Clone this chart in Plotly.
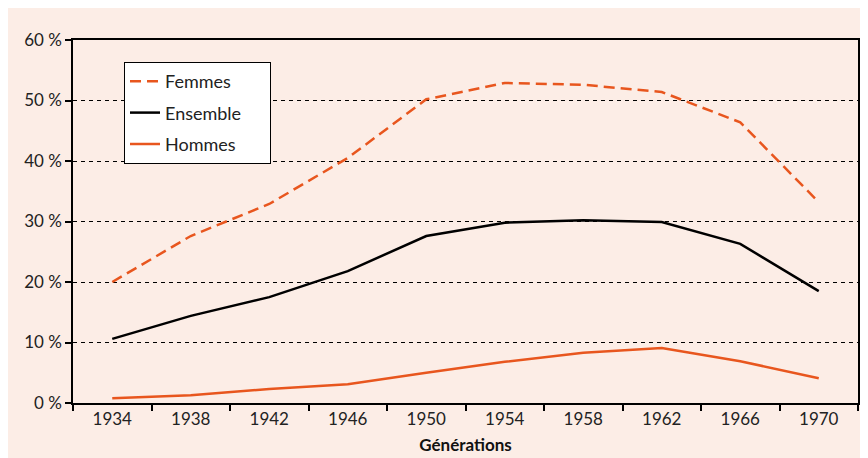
import plotly.graph_objects as go

generations = ["1934", "1938", "1942", "1946", "1950", "1954", "1958", "1962", "1966", "1970"]
femmes = [20.0, 27.6, 32.9, 40.5, 50.2, 52.9, 52.6, 51.4, 46.4, 33.2]
ensemble = [10.6, 14.4, 17.5, 21.8, 27.6, 29.8, 30.2, 29.9, 26.3, 18.5]
hommes = [0.8, 1.3, 2.3, 3.1, 5.0, 6.8, 8.3, 9.1, 6.9, 4.1]
y_ticks = [0, 10, 20, 30, 40, 50, 60]
y_ticktext = [f"{v} %" for v in y_ticks]

ORANGE = "#E8561E"
PINK = "#FCEDE6"
FONT = "Lato, Open Sans, sans-serif"
PAD = "\u00a0" * 5

fig = go.Figure()
fig.add_trace(go.Scatter(x=generations, y=femmes, name="Femmes" + PAD, mode="lines",
                         line=dict(color=ORANGE, width=2.5, dash="11px,6px"), legendgroup="a"))
fig.add_trace(go.Scatter(x=generations, y=ensemble, name="Ensemble" + PAD, mode="lines",
                         line=dict(color="black", width=2.5), legendgroup="b"))
fig.add_trace(go.Scatter(x=generations, y=hommes, name="Hommes" + PAD, mode="lines",
                         line=dict(color=ORANGE, width=2.5), legendgroup="c"))

W, H = 868, 458
L, R, T, B = 65, 18, 32, 63
pw, ph = W - L - R, H - T - B

fig.update_layout(
    width=W, height=H,
    margin=dict(l=L, r=R, t=T, b=B),
    paper_bgcolor=PINK,
    plot_bgcolor=PINK,
    font=dict(family=FONT, size=17, color="#222222"),
    showlegend=True,
    legend=dict(x=(116 - L) / pw, y=(H - B - 54) / ph, xanchor="left", yanchor="top",
                bgcolor="white", bordercolor="black", borderwidth=1,
                font=dict(size=18, family=FONT, color="#222222"),
                traceorder="grouped", tracegroupgap=5),
)
fig.update_xaxes(
    type="category", range=[-0.5, len(generations) - 0.5],
    showline=True, linecolor="black", linewidth=1.5, mirror=True,
    ticks="outside", tickson="boundaries", ticklen=6, tickcolor="black", tickwidth=1.5,
    showgrid=False, zeroline=False, automargin=False,
    title=dict(text="<b>Générations</b>", font=dict(size=17, family=FONT, color="#111111"), standoff=11),
)
fig.update_yaxes(
    range=[0, 60], tickvals=y_ticks, ticktext=y_ticktext,
    showline=True, linecolor="black", linewidth=1.5, mirror=True,
    ticks="outside", ticklen=6, tickcolor="black", tickwidth=1.5,
    showgrid=True, gridcolor="black", gridwidth=1, griddash="4px,4px",
    zeroline=False, automargin=False,
)

fig.write_html("out.html")
